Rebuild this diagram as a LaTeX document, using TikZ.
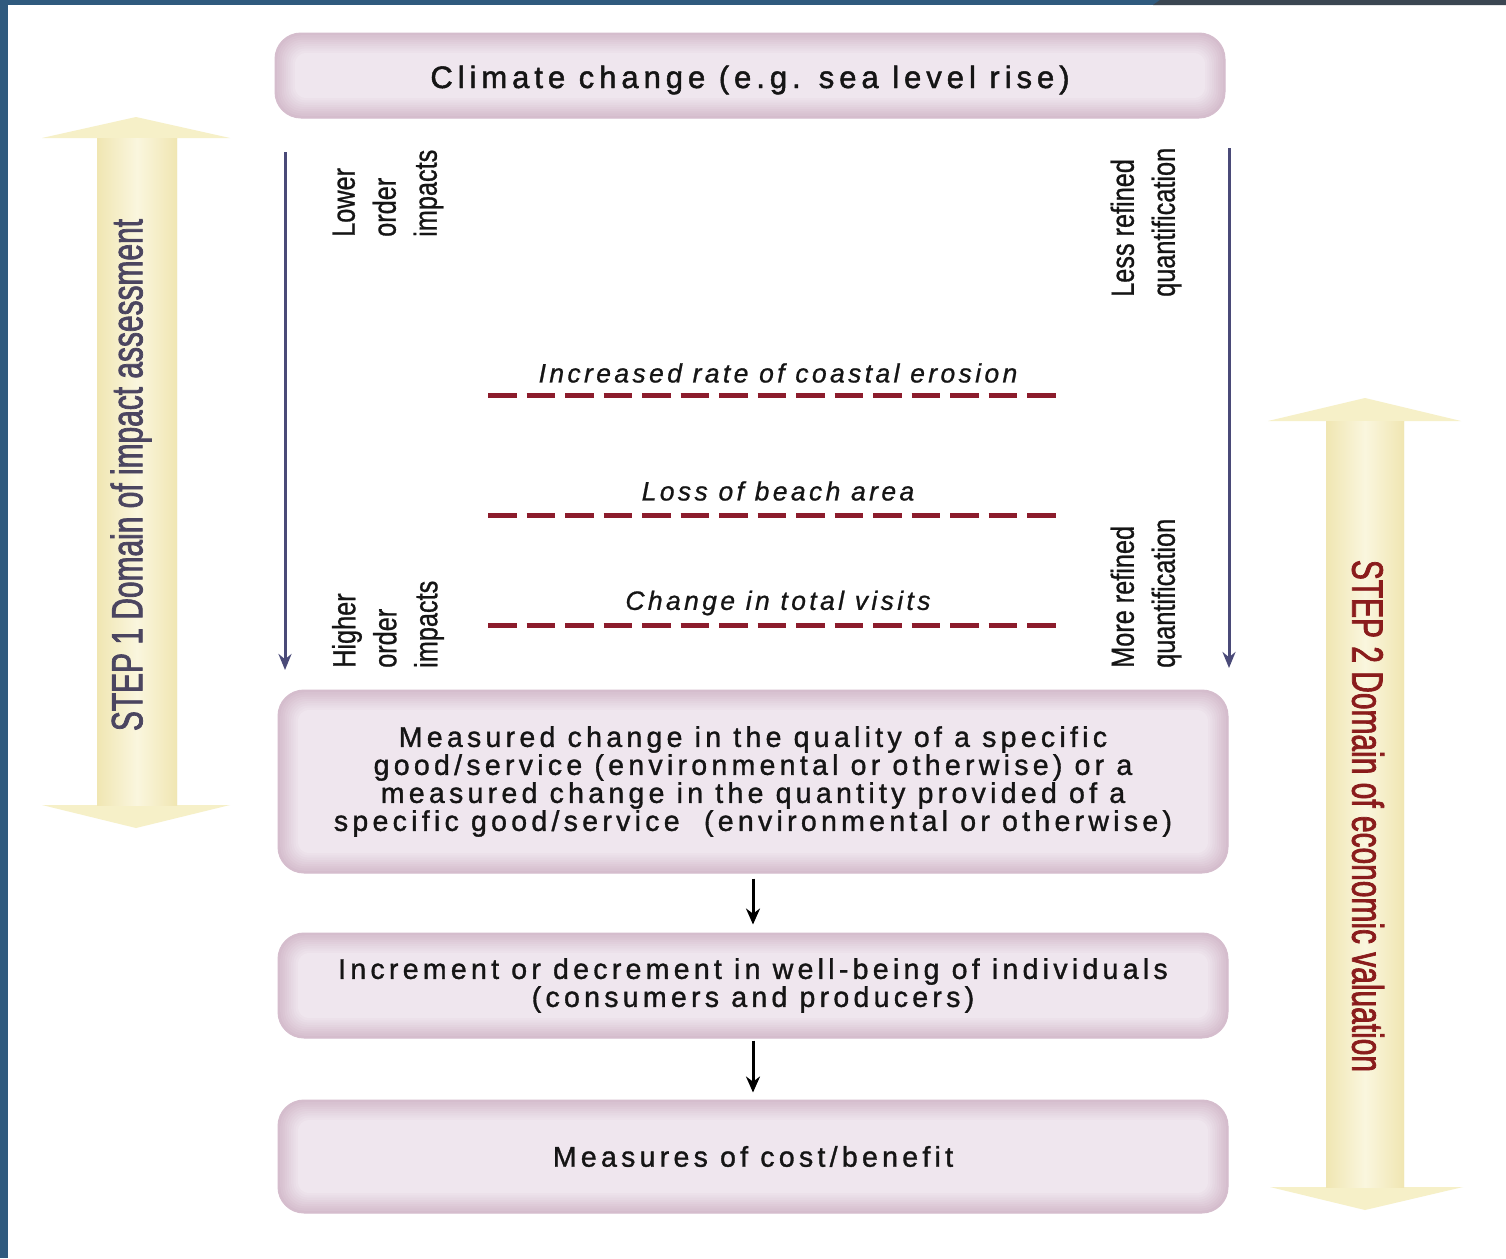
\documentclass[tikz,border=0pt]{standalone}
\usepackage{fontspec}
\setmainfont{Liberation Sans}
\newfontfamily\boxfont[LetterSpace=15,FakeBold=1.2]{Liberation Sans}
\newfontfamily\topfont[LetterSpace=16,FakeBold=1.6]{Liberation Sans}
\newfontfamily\labfont[LetterSpace=12.7,FakeBold=0.8]{Liberation Sans}
\newfontfamily\narrowfont[FakeStretch=0.79,FakeBold=0.8]{Liberation Sans}
\newfontfamily\stepfont[FakeStretch=0.68,FakeBold=1.6]{Liberation Sans}
\usetikzlibrary{arrows.meta}
\definecolor{frameblue}{HTML}{2F5A7E}
\definecolor{framedark}{HTML}{3B4652}
\definecolor{thinarrow}{HTML}{4A4A78}
\definecolor{dashred}{HTML}{8C1C2C}
\definecolor{stepone}{HTML}{4B4560}
\definecolor{steptwo}{HTML}{8A1C1C}
\definecolor{ylw}{HTML}{F6F0C8}
\definecolor{ylwedge}{HTML}{F0E6B2}
\definecolor{ylwmid}{HTML}{FAF6DE}
\definecolor{pkout}{HTML}{D5BDCD}
\definecolor{pkin}{HTML}{EFE6EE}
\definecolor{txt}{HTML}{151515}
\tikzset{
  pbox/.style={rounded corners=26pt, fill=pkout, draw=pkout, line width=1pt,
    align=center, inner sep=0pt, text=txt, minimum width=950pt,
    path picture={
      \foreach \i in {1,...,9}{
        \pgfmathsetmacro{\pc}{\i*11.1}
        \pgfmathsetmacro{\ins}{\i*2.2}
        \pgfmathsetmacro{\rc}{26-\i*1.6}
        \fill[pkin!\pc!pkout, rounded corners=\rc pt] ([shift={(\ins pt,-\ins pt)}]path picture bounding box.north west) rectangle ([shift={(-\ins pt,\ins pt)}]path picture bounding box.south east);
      }
    }},
  boxtext/.style={font=\boxfont\fontsize{28.5}{28}\selectfont},
  vlab/.style={inner sep=0pt, align=left, text=txt, font=\narrowfont\fontsize{32}{41}\selectfont},
  dashline/.style={draw=dashred, line width=5pt, dash pattern=on 28.5pt off 10pt},
  itlab/.style={inner sep=0pt, text=txt, font=\labfont\itshape\fontsize{26.5}{28}\selectfont},
  thinarr/.style={draw=thinarrow, line width=3pt, -{Stealth[length=16pt,width=13pt]}},
  flowarr/.style={draw=black, line width=3pt, -{Stealth[length=16pt,width=14pt]}},
  steplab/.style={inner sep=0pt, font=\stepfont\fontsize{44}{48}\selectfont},
}
\begin{document}
\begin{tikzpicture}[x=1pt,y=-1pt]
\useasboundingbox (0,0) rectangle (1506,1258);
\fill[white] (0,0) rectangle (1506,1258);
% frame
\fill[frameblue] (0,0) rectangle (1506,5);
\fill[frameblue] (0,0) rectangle (8,1258);
\fill[framedark] (1160,0) -- (1506,0) -- (1506,5) -- (1153,5) -- cycle;

% big yellow arrows
\fill[ylw] (136,117) -- (230,138) -- (177,138) -- (177,805) -- (230,805) -- (136,828) -- (42,805) -- (97,805) -- (97,138) -- (42,138) -- cycle;
\shade[left color=ylwedge, right color=ylwedge, middle color=ylwmid] (97,138) rectangle (177,805);
\fill[ylw] (1365,398) -- (1461,421) -- (1404,421) -- (1404,1187) -- (1463,1187) -- (1365,1210) -- (1270,1187) -- (1326,1187) -- (1326,421) -- (1268,421) -- cycle;
\shade[left color=ylwedge, right color=ylwedge, middle color=ylwmid] (1326,421) rectangle (1404,1187);
\node[steplab, text=stepone, rotate=90] (step1) at (131,475) {STEP 1 Domain of impact assessment};
\node[steplab, text=steptwo, rotate=-90] (step2) at (1368,816) {STEP 2 Domain of economic valuation};

% boxes
\node[pbox, minimum height=85pt, text height=30pt, text depth=5pt, font=\topfont\fontsize{31}{30}\selectfont] (cc) at (750,75.5) {Climate change (e.g. sea level rise)};
\node[pbox, boxtext, minimum height=183pt] (meas) at (753,781.5) {Measured change in the quality of a specific\\good/service (environmental or otherwise) or a\\measured change in the quantity provided of a\\specific good/service\ \ (environmental or otherwise)};
\node[pbox, boxtext, minimum height=105pt] (incr) at (753,985.5) {Increment or decrement in well-being of individuals\\(consumers and producers)};
\node[pbox, boxtext, minimum height=113pt] (cost) at (753,1156.5) {Measures of cost/benefit};

\draw[flowarr, shorten <=5pt, shorten >=8pt] (meas.south) -- (incr.north);
\draw[flowarr, shorten <=2pt, shorten >=7pt] (incr.south) -- (cost.north);

% thin side arrows
\coordinate (lt) at (285,152);
\coordinate (lb) at (285,670);
\coordinate (rt) at (1229,148);
\coordinate (rb) at (1229,668);
\draw[thinarr] (lt) -- (lb);
\draw[thinarr] (rt) -- (rb);

% side labels
\node[vlab, rotate=90, anchor=west] (lower) at (388,237) {Lower\\order\\impacts};
\node[vlab, rotate=90, anchor=west] (higher) at (388,668) {Higher\\order\\impacts};
\node[vlab, rotate=90, anchor=west] (less) at (1146,297) {Less refined\\quantification};
\node[vlab, rotate=90, anchor=west] (more) at (1146,668) {More refined\\quantification};

% dashed levels
\coordinate (d1a) at (488,395); \coordinate (d1b) at (1057,395);
\coordinate (d2a) at (488,515); \coordinate (d2b) at (1057,515);
\coordinate (d3a) at (488,625); \coordinate (d3b) at (1057,625);
\draw[dashline] (d1a) -- (d1b);
\draw[dashline] (d2a) -- (d2b);
\draw[dashline] (d3a) -- (d3b);
\node[itlab] (ero) at (778,373) {Increased rate of coastal erosion};
\node[itlab] (beach) at (778,491) {Loss of beach area};
\node[itlab] (visits) at (778,603) {Change in total visits};
\end{tikzpicture}
\end{document}
